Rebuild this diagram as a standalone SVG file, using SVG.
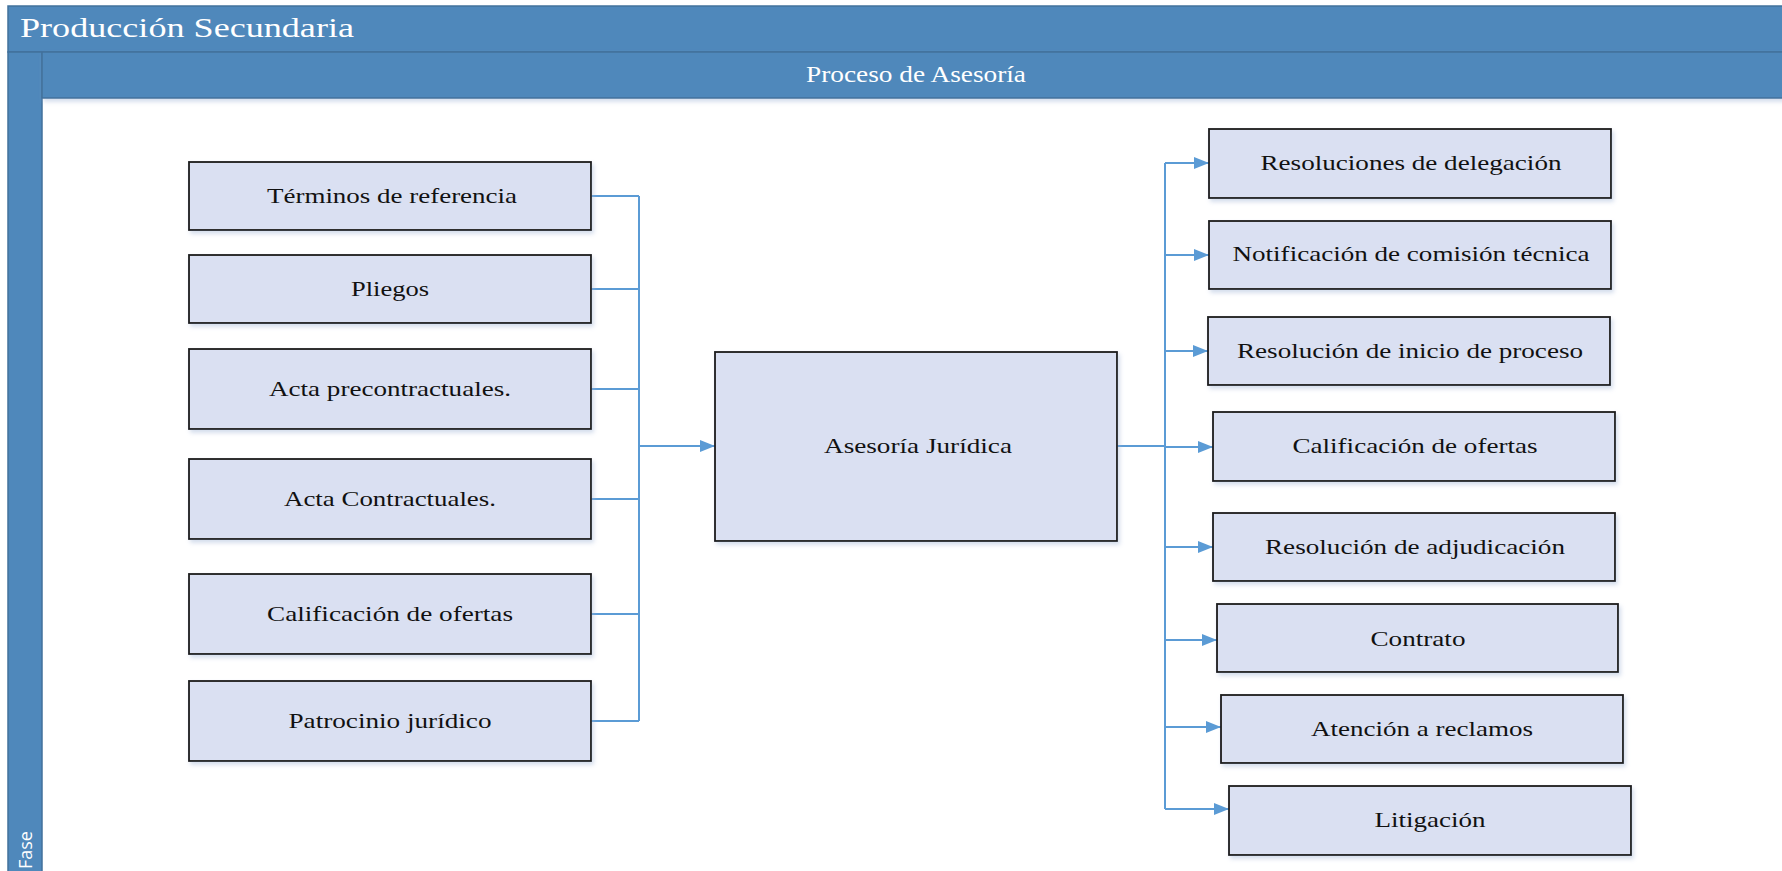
<svg xmlns="http://www.w3.org/2000/svg" width="1782" height="871" viewBox="0 0 1782 871">
<style>
.bar{fill:#4F88BB;stroke:#41719C;stroke-width:1.5}
.box{fill:#DAE0F2;stroke:#1a1a1a;stroke-width:1.8}
.t{font-family:"Liberation Serif","Times New Roman",serif;font-size:22px;fill:#111;text-anchor:middle}
.h{font-family:"Liberation Serif","Times New Roman",serif;fill:#fff}
.c{fill:none;stroke:#5B9BD5;stroke-width:2}
</style>
<defs>
<filter id="sh" x="-5%" y="-10%" width="115%" height="130%">
<feDropShadow dx="2" dy="3" stdDeviation="2" flood-color="#9fb4d6" flood-opacity="0.45"/>
</filter>
<marker id="ar" markerWidth="15" markerHeight="12" refX="15" refY="6" orient="auto" markerUnits="userSpaceOnUse">
<path d="M0,0 L15,6 L0,12 Z" fill="#5B9BD5"/>
</marker>
</defs>
<rect x="0" y="0" width="1782" height="871" fill="#fff"/>
<g id="pool">
<rect class="bar" x="8" y="6" width="1780" height="46"/>
<text class="h" x="20" y="37" font-size="27" textLength="334" lengthAdjust="spacingAndGlyphs">Producción Secundaria</text>
<rect class="bar" x="8" y="52" width="34" height="825"/>
<text x="32" y="869" transform="rotate(-90 32 869)" font-family="'Open Sans','Liberation Sans',sans-serif" font-size="18" fill="#fff">Fase</text>
<rect class="bar" x="42" y="52" width="1745" height="46" filter="url(#sh)"/>
<text class="h" x="916" y="82" font-size="24" text-anchor="middle" textLength="220" lengthAdjust="spacingAndGlyphs">Proceso de Asesoría</text>
</g>
<g id="connectors">
<path class="c" d="M591,196 H639 M591,289 H639 M591,389 H639 M591,499 H639 M591,614 H639 M591,721 H639 M639,196 V721"/>
<path class="c" d="M639,446 H715" marker-end="url(#ar)"/>
<path class="c" d="M1117,446 H1165 M1165,163 V809"/>
<path class="c" d="M1165,163 H1209" marker-end="url(#ar)"/>
<path class="c" d="M1165,255 H1209" marker-end="url(#ar)"/>
<path class="c" d="M1165,351 H1208" marker-end="url(#ar)"/>
<path class="c" d="M1165,447 H1213" marker-end="url(#ar)"/>
<path class="c" d="M1165,547 H1213" marker-end="url(#ar)"/>
<path class="c" d="M1165,640 H1217" marker-end="url(#ar)"/>
<path class="c" d="M1165,727 H1221" marker-end="url(#ar)"/>
<path class="c" d="M1165,809 H1229" marker-end="url(#ar)"/>
</g>
<g id="n-terminos"><rect class="box" filter="url(#sh)" x="189" y="162" width="402" height="68"/><text class="t" x="392" y="203" textLength="250" lengthAdjust="spacingAndGlyphs">Términos de referencia</text></g>
<g id="n-pliegos"><rect class="box" filter="url(#sh)" x="189" y="255" width="402" height="68"/><text class="t" x="390" y="296" textLength="78" lengthAdjust="spacingAndGlyphs">Pliegos</text></g>
<g id="n-acta-pre"><rect class="box" filter="url(#sh)" x="189" y="349" width="402" height="80"/><text class="t" x="390" y="396" textLength="242" lengthAdjust="spacingAndGlyphs">Acta precontractuales.</text></g>
<g id="n-acta-con"><rect class="box" filter="url(#sh)" x="189" y="459" width="402" height="80"/><text class="t" x="390" y="506" textLength="212" lengthAdjust="spacingAndGlyphs">Acta Contractuales.</text></g>
<g id="n-calif-l"><rect class="box" filter="url(#sh)" x="189" y="574" width="402" height="80"/><text class="t" x="390" y="621" textLength="246" lengthAdjust="spacingAndGlyphs">Calificación de ofertas</text></g>
<g id="n-patrocinio"><rect class="box" filter="url(#sh)" x="189" y="681" width="402" height="80"/><text class="t" x="390" y="728" textLength="203" lengthAdjust="spacingAndGlyphs">Patrocinio jurídico</text></g>
<g id="n-asesoria"><rect class="box" filter="url(#sh)" x="715" y="352" width="402" height="189"/><text class="t" x="918" y="453" textLength="188" lengthAdjust="spacingAndGlyphs">Asesoría Jurídica</text></g>
<g id="n-res-deleg"><rect class="box" filter="url(#sh)" x="1209" y="129" width="402" height="69"/><text class="t" x="1411" y="170" textLength="301" lengthAdjust="spacingAndGlyphs">Resoluciones de delegación</text></g>
<g id="n-notif"><rect class="box" filter="url(#sh)" x="1209" y="221" width="402" height="68"/><text class="t" x="1411" y="261" textLength="357" lengthAdjust="spacingAndGlyphs">Notificación de comisión técnica</text></g>
<g id="n-res-inicio"><rect class="box" filter="url(#sh)" x="1208" y="317" width="402" height="68"/><text class="t" x="1410" y="358" textLength="346" lengthAdjust="spacingAndGlyphs">Resolución de inicio de proceso</text></g>
<g id="n-calif-r"><rect class="box" filter="url(#sh)" x="1213" y="412" width="402" height="69"/><text class="t" x="1415" y="453" textLength="245" lengthAdjust="spacingAndGlyphs">Calificación de ofertas</text></g>
<g id="n-res-adj"><rect class="box" filter="url(#sh)" x="1213" y="513" width="402" height="68"/><text class="t" x="1415" y="554" textLength="300" lengthAdjust="spacingAndGlyphs">Resolución de adjudicación</text></g>
<g id="n-contrato"><rect class="box" filter="url(#sh)" x="1217" y="604" width="401" height="68"/><text class="t" x="1418" y="646" textLength="95" lengthAdjust="spacingAndGlyphs">Contrato</text></g>
<g id="n-atencion"><rect class="box" filter="url(#sh)" x="1221" y="695" width="402" height="68"/><text class="t" x="1422" y="736" textLength="222" lengthAdjust="spacingAndGlyphs">Atención a reclamos</text></g>
<g id="n-litigacion"><rect class="box" filter="url(#sh)" x="1229" y="786" width="402" height="69"/><text class="t" x="1430" y="827" textLength="111" lengthAdjust="spacingAndGlyphs">Litigación</text></g>
</svg>
